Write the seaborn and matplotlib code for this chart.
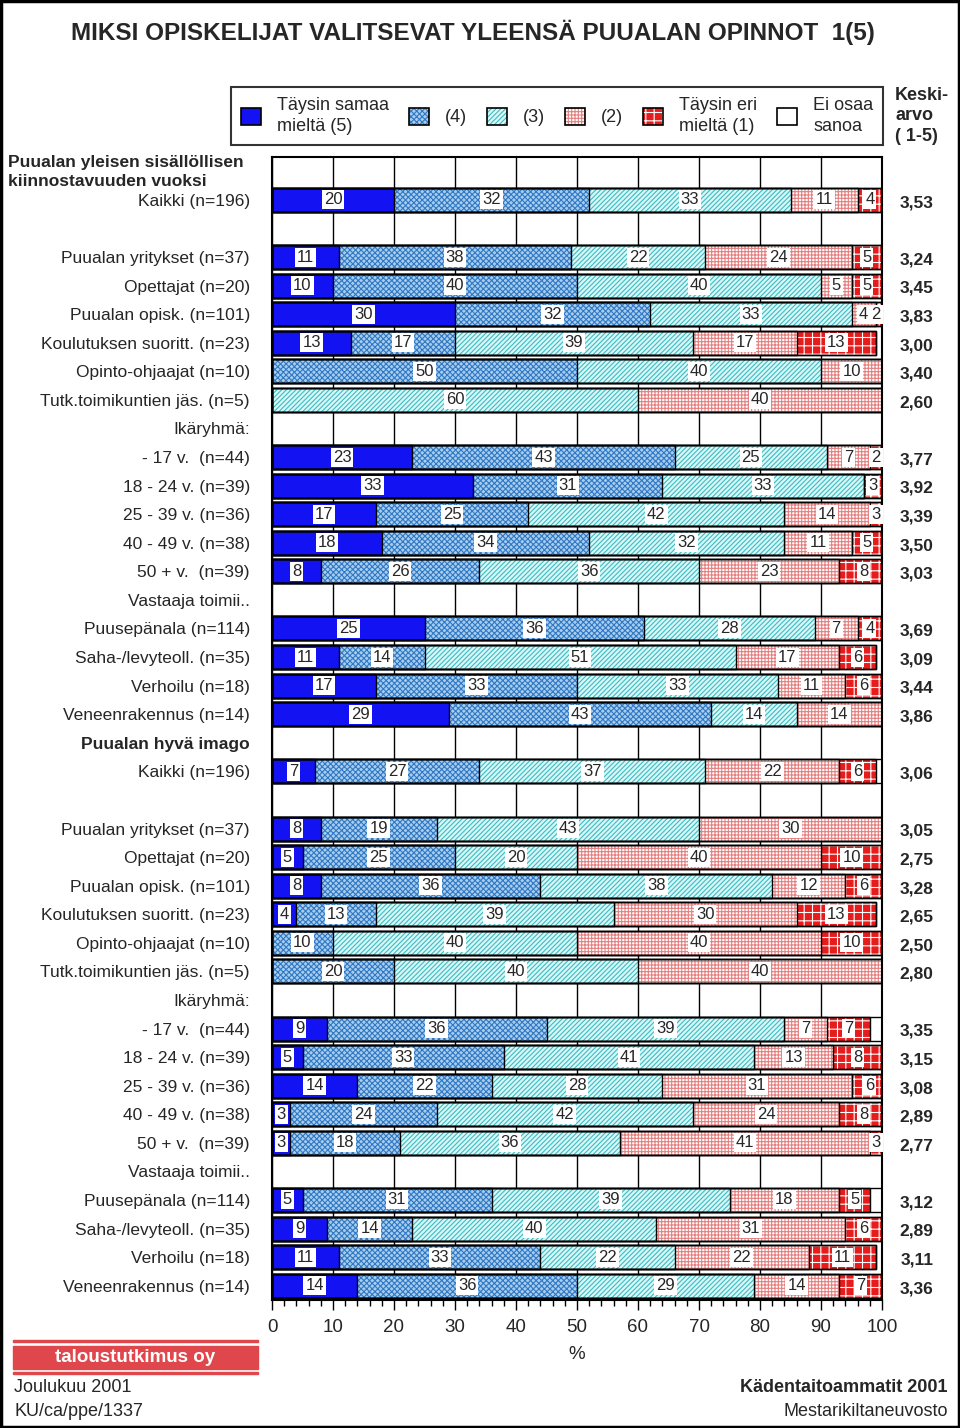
import pandas as pd
import matplotlib
matplotlib.use("Agg")
import matplotlib.pyplot as plt
import seaborn as sns
from matplotlib.patches import Patch, Rectangle
from matplotlib.ticker import MultipleLocator

# === I. ===
title = "MIKSI OPISKELIJAT VALITSEVAT YLEENSÄ PUUALAN OPINNOT  1(5)"

groups = ["Kaikki (n=196)",
          "Puualan yritykset (n=37)", "Opettajat (n=20)", "Puualan opisk. (n=101)",
          "Koulutuksen suoritt. (n=23)", "Opinto-ohjaajat (n=10)", "Tutk.toimikuntien jäs. (n=5)",
          "- 17 v.  (n=44)", "18 - 24 v. (n=39)", "25 - 39 v. (n=36)", "40 - 49 v. (n=38)",
          "50 + v.  (n=39)",
          "Puusepänala (n=114)", "Saha-/levyteoll. (n=35)", "Verhoilu (n=18)",
          "Veneenrakennus (n=14)"]

categories = ["Täysin samaa\nmieltä (5)", "(4)", "(3)", "(2)", "Täysin eri\nmieltä (1)", "Ei osaa\nsanoa"]

# Q1: Puualan yleisen sisällöllisen kiinnostavuuden vuoksi
q1_5 = [20, 11, 10, 30, 13, 0, 0, 23, 33, 17, 18, 8, 25, 11, 17, 29]
q1_4 = [32, 38, 40, 32, 17, 50, 0, 43, 31, 25, 34, 26, 36, 14, 33, 43]
q1_3 = [33, 22, 40, 33, 39, 40, 60, 25, 33, 42, 32, 36, 28, 51, 33, 14]
q1_2 = [11, 24, 5, 4, 17, 10, 40, 7, 0, 14, 11, 23, 7, 17, 11, 14]
q1_1 = [4, 5, 5, 2, 13, 0, 0, 2, 3, 3, 5, 8, 4, 6, 6, 0]
q1_eos = [0, 0, 0, 0, 0, 0, 0, 0, 0, 0, 0, 0, 0, 0, 0, 0]
q1_mean = [3.53, 3.24, 3.45, 3.83, 3.00, 3.40, 2.60, 3.77, 3.92, 3.39, 3.50, 3.03,
           3.69, 3.09, 3.44, 3.86]

# Q2: Puualan hyvä imago
q2_5 = [7, 8, 5, 8, 4, 0, 0, 9, 5, 14, 3, 3, 5, 9, 11, 14]
q2_4 = [27, 19, 25, 36, 13, 10, 20, 36, 33, 22, 24, 18, 31, 14, 33, 36]
q2_3 = [37, 43, 20, 38, 39, 40, 40, 39, 41, 28, 42, 36, 39, 40, 22, 29]
q2_2 = [22, 30, 40, 12, 30, 40, 40, 7, 13, 31, 24, 41, 18, 31, 22, 14]
q2_1 = [6, 0, 10, 6, 13, 10, 0, 7, 8, 6, 8, 3, 5, 6, 11, 7]
q2_eos = [1, 0, 0, 1, 0, 0, 0, 2, 0, 0, 0, 0, 2, 0, 0, 0]
q2_mean = [3.06, 3.05, 2.75, 3.28, 2.65, 2.50, 2.80, 3.35, 3.15, 3.08, 2.89, 2.77,
           3.12, 2.89, 3.11, 3.36]

face_colors = ["#1212f2", "#a9cdee", "#d9f7f6", "#ffffff", "#e61c1c", "#ffffff"]
hatch_colors = ["#1212f2", "#2f78c4", "#3cbcc4", "#e58080", "#ffffff", "#ffffff"]
hatches = [None, "xxxxxx", "///////", "+++++", "++", None]


# === II. Build row layout (40 rows, headings + blanks) ===
def block_layout(heading):
    rows = [(heading, None), (groups[0], 0), ("", None)]
    rows += [(groups[i], i) for i in range(1, 7)]
    rows += [("Ikäryhmä:", None)] + [(groups[i], i) for i in range(7, 12)]
    rows += [("Vastaaja toimii..", None)] + [(groups[i], i) for i in range(12, 16)]
    return rows


layout = block_layout("") + block_layout("Puualan hyvä imago")
order = [f"r{i}" for i in range(len(layout))]

records = []
for q, (s5, s4, s3, s2, s1, se, sm) in enumerate([
        (q1_5, q1_4, q1_3, q1_2, q1_1, q1_eos, q1_mean),
        (q2_5, q2_4, q2_3, q2_2, q2_1, q2_eos, q2_mean)]):
    for r, (lab, gi) in enumerate(layout[q * 20:(q + 1) * 20]):
        if gi is None:
            continue
        vals = [s5[gi], s4[gi], s3[gi], s2[gi], s1[gi], se[gi]]
        rec = {"row": f"r{q * 20 + r}", "mean": sm[gi]}
        cum = 0
        for k, v in enumerate(vals):
            rec[f"v{k}"] = v
            cum += v
            rec[f"c{k}"] = cum
        records.append(rec)
df = pd.DataFrame(records)

# === III. Figure ===
sns.set_style("white")
plt.rcParams["font.family"] = ["Liberation Sans", "DejaVu Sans"]
plt.rcParams["hatch.linewidth"] = 0.8

fig = plt.figure(figsize=(9.6, 14.28), dpi=100)
ax = fig.add_axes([272 / 960, 1 - 1300 / 1428, 610 / 960, 1143 / 1428])

# cumulative layers, longest first so shorter ones sit in front
for k in reversed(range(6)):
    n0 = len(ax.patches)
    sns.barplot(data=df, x=f"c{k}", y="row", order=order, orient="h", width=0.84,
                errorbar=None, ax=ax, color=face_colors[k])
    for p in ax.patches[n0:]:
        p.set_facecolor(face_colors[k])
        p.set_edgecolor(hatch_colors[k])
        p.set_linewidth(0)
        if hatches[k]:
            p.set_hatch(hatches[k])

# black segment outlines
for k in reversed(range(6)):
    sns.barplot(data=df, x=f"c{k}", y="row", order=order, orient="h", width=0.84,
                errorbar=None, ax=ax, fill=False, color="black", linewidth=1.0)

ax.set_xlim(0, 100)
ax.set_ylim(len(order) - 0.5, -0.5)
ax.xaxis.set_major_locator(MultipleLocator(10))
ax.xaxis.set_minor_locator(MultipleLocator(2))
ax.tick_params(axis="x", which="major", direction="out", length=7, width=1,
               labelsize=13.5, pad=7, color="black", bottom=True)
ax.tick_params(axis="x", which="minor", direction="out", length=4, width=1,
               color="black", bottom=True)
ax.grid(axis="x", which="major", color="black", linewidth=1)
ax.set_axisbelow(True)
for s in ax.spines.values():
    s.set_color("black")
    s.set_linewidth(1.5)
ax.set_xlabel("%", fontsize=13.5, labelpad=7)
ax.set_ylabel("")

ax.set_yticks(range(len(order)))
ax.set_yticklabels([lab for lab, _ in layout], fontsize=12.5)
ax.tick_params(axis="y", length=0, pad=16)
ax.get_yticklabels()[20].set_fontweight("bold")

# value labels and means
for _, rec in df.iterrows():
    y = order.index(rec["row"])
    for k in range(5):
        v = rec[f"v{k}"]
        if v <= 0:
            continue
        xc = rec[f"c{k}"] - v / 2
        ax.text(min(xc, 99.0), y, f"{v:d}", ha="center", va="center", fontsize=12,
                bbox=dict(boxstyle="square,pad=0.12", fc="white", ec="none"), zorder=5)
    ax.text(105.7, y + 0.1, f"{rec['mean']:.2f}".replace(".", ","), ha="center",
            va="center", fontsize=12.5, fontweight="bold", clip_on=False)

fig.text(8 / 960, 1 - 172 / 1428, "Puualan yleisen sisällöllisen\nkiinnostavuuden vuoksi",
         ha="left", va="center", fontsize=12.5, fontweight="bold", linespacing=1.3)

# === IV. Legend ===
handles = []
for k in range(6):
    base = Patch(facecolor=face_colors[k], edgecolor=hatch_colors[k], hatch=hatches[k],
                 linewidth=0)
    edge = Patch(facecolor="none", edgecolor="black", linewidth=1.2)
    handles.append((base, edge))
leg = fig.legend(handles, categories, ncol=6, loc="center",
                 bbox_to_anchor=(557 / 960, 1 - 116 / 1428), fontsize=13,
                 frameon=True, fancybox=False, edgecolor="black", handlelength=1.1,
                 handleheight=1.1, handletextpad=0.9, columnspacing=1.1,
                 borderpad=0.55)
leg.get_frame().set_linewidth(1.5)
for t in leg.get_texts():
    t.set_linespacing(1.3)

fig.text(895 / 960, 1 - 116 / 1428, "Keski-\narvo\n( 1-5)", ha="left", va="center",
         fontsize=13, fontweight="bold", linespacing=1.3)

# === V. Title, footer ===
fig.text(473 / 960, 1 - 32 / 1428, title, ha="center", va="center", fontsize=17.5,
         fontweight="bold")

fig.add_artist(Rectangle((13 / 960, 1 - 1342 / 1428), 245 / 960, 2.5 / 1428,
                         transform=fig.transFigure, color="#e0474c"))
fig.add_artist(Rectangle((13 / 960, 1 - 1369 / 1428), 245 / 960, 23 / 1428,
                         transform=fig.transFigure, color="#e0474c"))
fig.add_artist(Rectangle((13 / 960, 1 - 1374 / 1428), 245 / 960, 2.5 / 1428,
                         transform=fig.transFigure, color="#e0474c"))
fig.text(135 / 960, 1 - 1357 / 1428, "taloustutkimus oy", ha="center", va="center",
         fontsize=13.5, fontweight="bold", color="white")
fig.text(14 / 960, 1 - 1387 / 1428, "Joulukuu 2001", ha="left", va="center", fontsize=13)
fig.text(14 / 960, 1 - 1412 / 1428, "KU/ca/ppe/1337", ha="left", va="center", fontsize=13)
fig.text(948 / 960, 1 - 1387 / 1428, "Kädentaitoammatit 2001", ha="right", va="center",
         fontsize=13, fontweight="bold")
fig.text(948 / 960, 1 - 1412 / 1428, "Mestarikiltaneuvosto", ha="right", va="center",
         fontsize=13)

fig.add_artist(Rectangle((0.001, 0.001), 0.998, 0.998, transform=fig.transFigure,
                         fill=False, edgecolor="black", linewidth=2.5))

fig.savefig("out.png", dpi=100)
